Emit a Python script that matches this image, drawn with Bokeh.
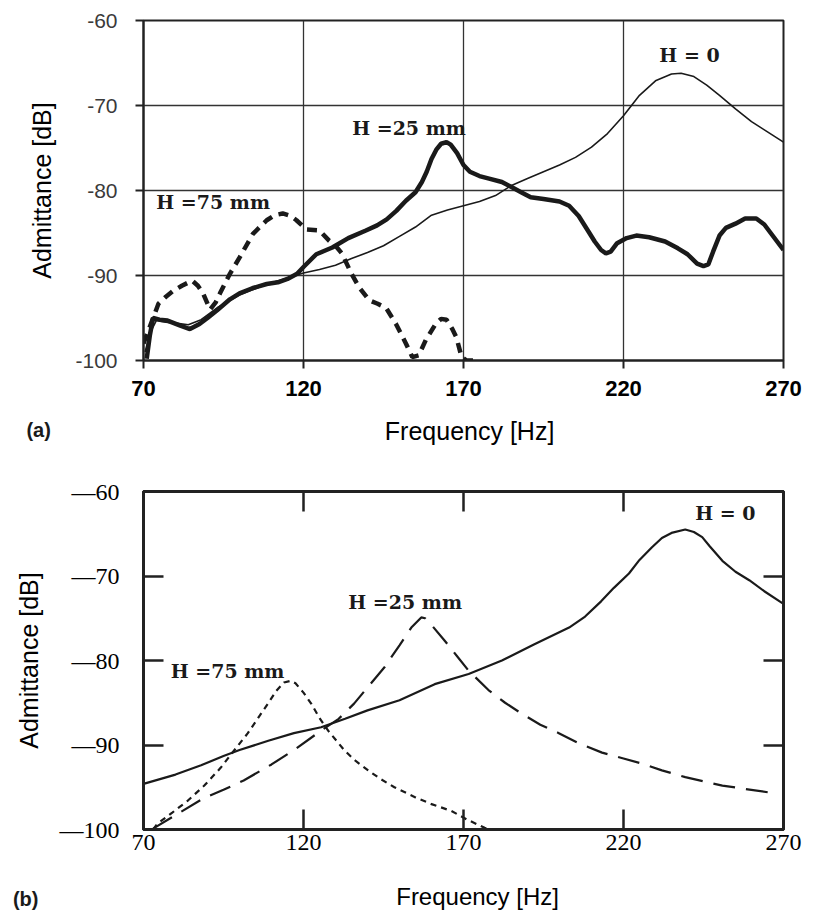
import math
from bokeh.plotting import figure
from bokeh.layouts import column
from bokeh.models import Range1d, FixedTicker, Label, LinearAxis, CustomJSTickFormatter
from bokeh.embed import file_html
from bokeh.resources import INLINE

# ---------------- data ----------------
freq_ticks = [70, 120, 170, 220, 270]
adm_ticks = [-100, -90, -80, -70, -60]
series_labels = ["H =75 mm", "H =25 mm", "H = 0"]
x_title = "Frequency [Hz]"
y_title = "Admittance [dB]"
panel_tags = ["(a)", "(b)"]

# panel (a): measured
a_h0 = [(70.5, -99.0), (72, -96.8), (74, -95.3), (77, -95.5), (80, -95.6), (84, -95.8),
        (88, -95.2), (93, -93.8), (100, -92.3), (108, -91.1), (115, -90.3), (120, -89.7),
        (125, -89.3), (130, -88.8), (135, -88.0), (140, -87.3), (145, -86.5), (150, -85.4),
        (155, -84.3), (160, -82.9), (165, -82.3), (170, -81.8), (175, -81.3), (180, -80.6),
        (185, -79.4), (190, -78.6), (195, -77.8), (200, -77.0), (205, -76.1), (210, -74.9),
        (215, -73.3), (220, -71.2), (225, -68.8), (230, -67.1), (235, -66.3), (238, -66.2),
        (242, -66.6), (246, -67.6), (250, -68.8), (255, -70.4), (260, -71.9), (265, -73.1),
        (270, -74.3)]

a_h25 = [(71, -99.8), (72, -97.0), (73, -95.0), (75, -95.2), (77.5, -95.3), (81.5, -95.9),
         (84.5, -96.3), (87.5, -95.7), (90, -95.0), (93, -94.1), (97, -92.8), (100, -92.1),
         (104, -91.5), (108.5, -91.0), (112, -90.8), (115, -90.4), (118, -89.8), (120, -89.0),
         (124, -87.5), (129, -86.7), (134, -85.6), (139.5, -84.7), (143, -84.1), (146, -83.4),
         (149, -82.4), (152, -81.2), (155, -80.2), (157, -79.0), (158.5, -77.8), (160, -76.3),
         (161.5, -75.2), (163, -74.5), (164.7, -74.3), (166, -74.6), (168, -75.6), (170, -77.0),
         (172, -77.8), (175, -78.3), (178, -78.6), (182, -79.0), (185, -79.6), (188, -80.2),
         (191, -80.8), (195, -81.0), (200, -81.3), (203, -81.8), (206, -83.0), (209, -84.8),
         (211, -86.0), (213, -87.0), (214.5, -87.4), (216, -87.2), (218, -86.2), (221, -85.6),
         (224, -85.3), (228, -85.5), (233, -86.0), (237, -86.8), (240, -87.5), (243, -88.6),
         (245, -88.9), (246.5, -88.7), (248, -87.2), (250, -85.3), (252, -84.4), (255, -83.9),
         (258, -83.3), (261.5, -83.3), (264, -84.0), (266, -85.0), (268, -86.0), (270, -87.0)]

a_h75 = [(70, -98.0), (72, -96.0), (74.7, -93.3), (77, -92.5), (79.3, -91.8), (82, -91.2),
         (85.2, -90.6), (87, -91.2), (88.6, -92.1), (90.8, -94.0), (92.5, -93.2), (93.9, -92.1),
         (97, -89.8), (100, -87.9), (104.2, -85.1), (108.5, -83.5), (111, -82.9), (113.5, -82.7),
         (116, -83.0), (117.8, -83.5), (121, -84.6), (125, -84.7), (128, -85.9), (130, -86.5),
         (132, -87.4), (135, -89.8), (137.4, -91.4), (140.5, -92.9), (143, -93.3), (145.8, -93.8),
         (148.9, -95.7), (152, -98.0), (154, -99.6), (156, -99.4), (158.2, -97.6), (161.3, -95.7),
         (163, -95.1), (164.7, -95.2), (166.5, -96.3), (167.8, -97.3), (169.4, -99.6),
         (171, -100.0), (175, -100.0)]

# panel (b): computed
b_h0 = [(70, -94.6), (80, -93.5), (88, -92.4), (95, -91.3), (100, -90.6), (109, -89.5),
        (117, -88.6), (125.5, -87.9), (133, -86.9), (140, -85.9), (150, -84.7), (161, -82.8),
        (171.6, -81.6), (182, -80.0), (192, -78.1), (203, -76.1), (208, -74.8), (213, -73.0),
        (217, -71.4), (221.7, -69.7), (225, -68.1), (228.9, -66.6), (232, -65.5), (235, -64.9),
        (239.3, -64.5), (242, -64.8), (244.6, -65.4), (247, -66.5), (250.9, -68.2), (255, -69.5),
        (259.3, -70.5), (264, -71.8), (270, -73.3)]

b_h25 = [(73, -99.9), (80, -98.3), (88.8, -96.3), (95, -95.3), (101.3, -94.2), (110, -92.3),
         (117, -90.6), (125.5, -88.3), (131, -86.9), (135.8, -85.1), (140, -83.2), (145.3, -80.8),
         (150, -78.2), (153.7, -76.1), (156.8, -74.9), (158, -75.0), (160, -75.8), (164, -77.6),
         (168, -79.5), (171.6, -81.2), (177.8, -83.5), (183, -85.0), (188.2, -86.3), (194, -87.6),
         (199.8, -88.6), (206, -89.8), (213.3, -90.9), (220, -91.6), (225.8, -92.2), (232, -93.0),
         (239.3, -93.8), (245, -94.3), (250.9, -94.8), (258, -95.2), (267, -95.7)]

b_h75 = [(73, -100.0), (74.4, -99.3), (79, -98.0), (83.8, -96.6), (89, -94.8), (94.1, -92.7),
         (98, -90.8), (102.6, -88.6), (106, -86.7), (108.9, -85.1), (111.5, -83.6), (113.9, -82.6),
         (116, -82.4), (117.5, -82.7), (120, -83.8), (122.4, -85.1), (125, -86.8), (127.7, -88.3),
         (132.7, -90.6), (136, -91.8), (140.2, -93.0), (144, -94.0), (148.4, -95.0), (155, -96.2),
         (160, -97.0), (166.2, -97.8), (171, -98.8), (176.6, -99.8), (178, -100.0)]


def xs(pts):
    return [p[0] for p in pts]


def ys(pts):
    return [p[1] for p in pts]


INK = "#1a1a1a"

# ---------------- panel (a) ----------------
p1 = figure(width=813, height=453, x_range=Range1d(70, 270), y_range=Range1d(-100, -60),
            output_backend="svg", toolbar_location=None,
            min_border_left=143, min_border_right=26, min_border_top=20, min_border_bottom=93,
            background_fill_color="white", border_fill_color="white")
p1.outline_line_color = "#222222"
p1.outline_line_width = 2
p1.xaxis.ticker = FixedTicker(ticks=freq_ticks)
p1.yaxis.ticker = FixedTicker(ticks=adm_ticks)
p1.yaxis.formatter = CustomJSTickFormatter(code="return '-' + Math.abs(tick);")
p1.grid.grid_line_color = "#333333"
p1.grid.grid_line_width = 1.3
for ax in p1.axis:
    ax.axis_line_color = "#222222"
    ax.axis_line_width = 2
    ax.major_tick_line_color = "#222222"
    ax.major_tick_line_width = 2
    ax.major_tick_out = 8
    ax.major_tick_in = 0
    ax.minor_tick_line_color = None
p1.xaxis.major_label_text_font = "Liberation Sans"
p1.xaxis.major_label_text_font_style = "bold"
p1.xaxis.major_label_text_font_size = "22px"
p1.xaxis.major_label_text_color = "black"
p1.xaxis.major_label_standoff = 12
p1.yaxis.major_label_text_font = "Liberation Sans"
p1.yaxis.major_label_text_font_size = "21px"
p1.yaxis.major_label_text_color = "#3a3a3a"
p1.yaxis.major_label_standoff = 18
p1.yaxis.axis_label = y_title
p1.yaxis.axis_label_text_font = "Liberation Sans"
p1.yaxis.axis_label_text_font_size = "25px"
p1.yaxis.axis_label_text_font_style = "normal"
p1.yaxis.axis_label_text_color = "black"
p1.yaxis.axis_label_standoff = 16

p1.line(xs(a_h0), ys(a_h0), line_color=INK, line_width=1.6)
p1.line(xs(a_h25), ys(a_h25), line_color=INK, line_width=4.5)
p1.line(xs(a_h75), ys(a_h75), line_color=INK, line_width=4.5, line_dash="10 7")

for txt, (lx, ly) in zip(series_labels, [(74.0, -81.4), (135.2, -72.7), (231.2, -64.1)]):
    p1.add_layout(Label(x=lx, y=ly, text=txt, text_font="DejaVu Serif",
                        text_font_style="bold", text_font_size="19px", text_color=INK,
                        text_align="left", text_baseline="middle"))
p1.add_layout(Label(x=171.9, y=-108.35, text=x_title, text_font="Liberation Sans",
                    text_font_size="25px", text_color="black", text_align="center",
                    text_baseline="middle"), "below")
p1.add_layout(Label(x=33.4, y=-108.2, text=panel_tags[0], text_font="Liberation Sans",
                    text_font_style="bold", text_font_size="20px", text_color=INK,
                    text_align="left", text_baseline="middle"), "below")

# ---------------- panel (b) ----------------
p2 = figure(width=813, height=459, x_range=Range1d(70, 270), y_range=Range1d(-100, -60),
            output_backend="svg", toolbar_location=None,
            min_border_left=143, min_border_right=30, min_border_top=38, min_border_bottom=83,
            background_fill_color="white", border_fill_color="white")
p2.outline_line_color = "#222222"
p2.outline_line_width = 3
p2.grid.visible = False
p2.xaxis.ticker = FixedTicker(ticks=freq_ticks)
p2.yaxis.ticker = FixedTicker(ticks=adm_ticks)
p2.yaxis.formatter = CustomJSTickFormatter(code="return '\u2014' + Math.abs(tick);")

p2.add_layout(LinearAxis(ticker=FixedTicker(ticks=freq_ticks),
                         formatter=CustomJSTickFormatter(code="return '';"),
                         major_label_text_font_size="1px", major_label_standoff=0), "above")
p2.add_layout(LinearAxis(ticker=FixedTicker(ticks=adm_ticks),
                         formatter=CustomJSTickFormatter(code="return '';"),
                         major_label_text_font_size="1px", major_label_standoff=0), "right")
for ax in p2.axis:
    ax.axis_line_color = "#222222"
    ax.axis_line_width = 3
    ax.major_tick_line_color = "#222222"
    ax.major_tick_line_width = 2.5
    ax.major_tick_out = 0
    ax.major_tick_in = 20
    ax.minor_tick_line_color = None
for ax in p2.below + p2.left:
    ax.major_label_text_font = "Liberation Serif"
    ax.major_label_text_font_size = "24px"
    ax.major_label_text_color = "black"
p2.xaxis[0].major_label_standoff = 9
p2.yaxis[0].major_label_standoff = 24
p2.yaxis[0].axis_label = y_title
p2.yaxis[0].axis_label_text_font = "Liberation Sans"
p2.yaxis[0].axis_label_text_font_size = "25px"
p2.yaxis[0].axis_label_text_font_style = "normal"
p2.yaxis[0].axis_label_text_color = "black"
p2.yaxis[0].axis_label_standoff = 14

p2.line(xs(b_h0), ys(b_h0), line_color=INK, line_width=2.2)
p2.line(xs(b_h25), ys(b_h25), line_color=INK, line_width=2.2, line_dash="22 11")
p2.line(xs(b_h75), ys(b_h75), line_color=INK, line_width=2.2, line_dash="6 5")

for txt, (lx, ly) in zip(series_labels, [(78.5, -81.2), (134.0, -73.1), (242.4, -62.6)]):
    p2.add_layout(Label(x=lx, y=ly, text=txt, text_font="DejaVu Serif",
                        text_font_style="bold", text_font_size="19px", text_color=INK,
                        text_align="left", text_baseline="middle"))
p2.add_layout(Label(x=174.4, y=-107.9, text=x_title, text_font="Liberation Sans",
                    text_font_size="24px", text_color="black", text_align="center",
                    text_baseline="middle"), "below")
p2.add_layout(Label(x=29.2, y=-108.2, text=panel_tags[1], text_font="Liberation Sans",
                    text_font_style="bold", text_font_size="20px", text_color=INK,
                    text_align="left", text_baseline="middle"), "below")

layout = column(p1, p2)
open("out.html", "w").write(file_html(layout, INLINE))
